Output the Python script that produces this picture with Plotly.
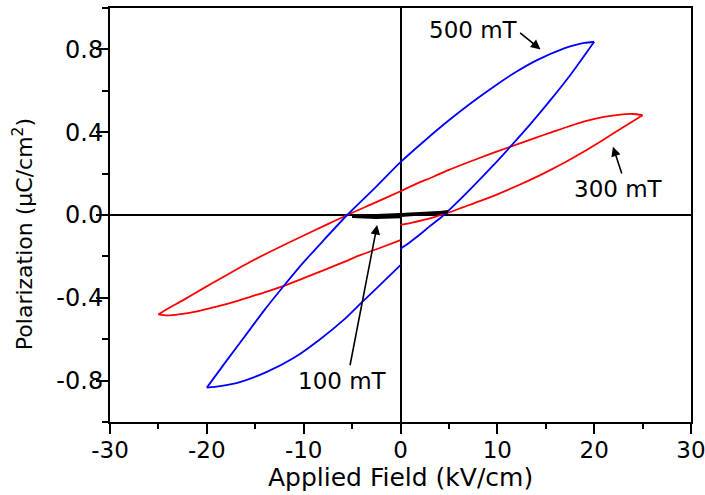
import plotly.graph_objects as go

# ---------------- data ----------------
# 500 mT loop (blue)
b500_rise_E = [0, 1, 2, 3, 4.48, 6, 7.57, 9.5, 11.36, 13.5, 15.5, 17.5, 20]
b500_rise_P = [-0.163, -0.13, -0.094, -0.055, 0.0, 0.068, 0.142, 0.236, 0.331, 0.444, 0.556, 0.674, 0.837]
b500_fall_E = [20, 19, 18, 16.9, 14.1, 12, 10, 7.85, 5.1, 2.4, 0, -2.5, -5.5, -8, -10, -12.06, -14, -15.6, -17.9, -20]
b500_fall_P = [0.837, 0.831, 0.821, 0.805, 0.748, 0.693, 0.632, 0.56, 0.461, 0.355, 0.255, 0.137, 0.0,
               -0.125, -0.228, -0.343, -0.456, -0.556, -0.70, -0.834]
b500_back_E = [-20, -18.6, -16.5, -13.8, -11.0, -8.3, -5.9, -4.0, -2.0, 0]
b500_back_P = [-0.834, -0.827, -0.806, -0.758, -0.690, -0.600, -0.508, -0.422, -0.333, -0.242]

# 300 mT loop (red)
r300_rise_E = [0, 1.2, 2.4, 3.5, 4.6, 6.5, 8.6, 10, 12, 14, 15.5, 17, 19, 21, 23, 25]
r300_rise_P = [-0.048, -0.037, -0.024, -0.01, 0.006, 0.038, 0.074, 0.1, 0.14, 0.183, 0.218, 0.255,
               0.308, 0.365, 0.424, 0.482]
r300_fall_E = [25, 24, 22.5, 21, 19, 17.5, 15.5, 14, 11.36, 9, 7, 5, 3.4, 1.5, 0, -2.5, -5.5, -8,
               -10.7, -13.1, -15.5, -18.25, -20.5, -22.4, -24, -25]
r300_fall_P = [0.482, 0.488, 0.484, 0.474, 0.452, 0.43, 0.398, 0.374, 0.33, 0.29, 0.255, 0.218, 0.185,
               0.148, 0.115, 0.062, 0.0, -0.055, -0.115, -0.169, -0.226, -0.298, -0.358, -0.41, -0.452, -0.48]
r300_back_E = [-25, -24.5, -23.8, -22.5, -21, -19, -17, -15.5, -13.8, -12.06, -10, -7.9, -6, -4.1, -2, 0]
r300_back_P = [-0.48, -0.484, -0.485, -0.478, -0.465, -0.443, -0.417, -0.395, -0.37, -0.342, -0.305,
               -0.266, -0.23, -0.193, -0.157, -0.121]

# 100 mT loop (black)
b100_E = [0, 2, 4.9, 2.5, 0, -2.5, -5, -2.5, 0]
b100_P = [-0.002, 0.004, 0.014, 0.009, 0.003, -0.002, -0.007, -0.012, -0.008]

# tick labels
x_tick_vals = [-30, -20, -10, 0, 10, 20, 30]
x_tick_text = ["-30", "-20", "-10", "0", "10", "20", "30"]
x_minor_vals = [-25, -15, -5, 5, 15, 25]
y_tick_vals = [-0.8, -0.4, 0.0, 0.4, 0.8]
y_tick_text = ["-0.8", "-0.4", "0.0", "0.4", "0.8"]
y_minor_vals = [-1.0, -0.6, -0.2, 0.2, 0.6, 1.0]

# labels: (text, text_x, text_y, tail_x, tail_y, head_x, head_y)
labels = [
    ("500 mT", 7.49, 0.894, 12.2, 0.886, 14.46, 0.800),
    ("300 mT", 22.5, 0.126, 22.9, 0.193, 21.94, 0.330),
    ("100 mT", -5.94, -0.804, -5.24, -0.733, -2.41, -0.048),
]

FONT = "DejaVu Sans"

fig = go.Figure()

def add_branch(E, P, color, width=1.8, shape="spline"):
    fig.add_trace(go.Scatter(x=E, y=P, mode="lines",
                             line=dict(color=color, width=width, shape=shape, smoothing=0.8),
                             showlegend=False, hoverinfo="skip"))

for E, P in [(r300_rise_E, r300_rise_P), (r300_fall_E, r300_fall_P), (r300_back_E, r300_back_P)]:
    add_branch(E, P, "#ff0000")
for E, P in [(b500_rise_E, b500_rise_P), (b500_fall_E, b500_fall_P), (b500_back_E, b500_back_P)]:
    add_branch(E, P, "#0000ff")
add_branch(b100_E, b100_P, "#000000", width=3, shape="linear")

annotations = []
for text, tx, ty, ax_, ay_, hx, hy in labels:
    annotations.append(dict(x=tx, y=ty, xref="x", yref="y", text=text, showarrow=False,
                            font=dict(family=FONT, size=23, color="black")))
    annotations.append(dict(x=hx, y=hy, xref="x", yref="y", ax=ax_, ay=ay_, axref="x", ayref="y",
                            text="", showarrow=True, arrowhead=2, arrowsize=1.2, arrowwidth=1.6,
                            arrowcolor="black"))

annotations.append(dict(x=0.5, y=-0.1748, xref="paper", yref="paper", text="Applied Field (kV/cm)",
                        showarrow=False, xanchor="center", yanchor="bottom",
                        font=dict(family=FONT, size=25, color="black")))
annotations.append(dict(x=-0.1498, y=0.4537, xref="paper", yref="paper",
                        text="Polarization (μC/cm<sup>2</sup>)", textangle=-90,
                        showarrow=False, xanchor="center", yanchor="middle",
                        font=dict(family=FONT, size=22, color="black")))

axis_common = dict(showgrid=False, showline=True, linecolor="black", linewidth=2, mirror=True,
                   ticks="outside", tickcolor="black", tickwidth=1.6,
                   zeroline=True, zerolinecolor="black", zerolinewidth=1.6,
                   tickmode="array", ticklabeloverflow="allow", automargin=False)

fig.update_xaxes(range=[-30, 30], tickvals=x_tick_vals, ticktext=x_tick_text, ticklen=10,
                 ticklabelstandoff=-4, tickfont=dict(family=FONT, size=23, color="black"),
                 minor=dict(tickvals=x_minor_vals, ticks="outside", ticklen=5, tickcolor="black",
                            tickwidth=1.6),
                 **axis_common)
fig.update_yaxes(range=[-1.0, 1.0], tickvals=y_tick_vals, ticktext=y_tick_text, ticklen=12,
                 ticklabelstandoff=-12, tickfont=dict(family=FONT, size=24, color="black"),
                 minor=dict(tickvals=y_minor_vals, ticks="outside", ticklen=6, tickcolor="black",
                            tickwidth=1.6),
                 **axis_common)

fig.update_layout(width=705, height=495, margin=dict(l=110, r=14, t=8, b=73),
                  plot_bgcolor="white", paper_bgcolor="white", annotations=annotations,
                  font=dict(family=FONT, color="black"))

fig.write_html("out.html", config={"displayModeBar": False},
               post_script="document.body.style.margin='0px';")
